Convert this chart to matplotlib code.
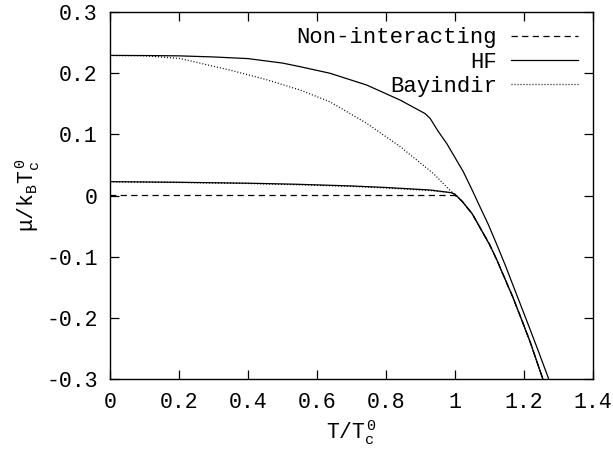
import matplotlib
matplotlib.use("Agg")
import matplotlib.pyplot as plt

# ---- data ----
# common branch above T_c (non-interacting, lower HF and Bayindir merge)
T_above = [1.0, 1.02, 1.05, 1.072, 1.1, 1.121, 1.169, 1.217, 1.254, 1.27]
mu_above = [0.0, -0.009, -0.030, -0.052, -0.080, -0.105, -0.168, -0.238, -0.299, -0.33]

# non-interacting below T_c
T_nonint_below = [0.0, 0.2, 0.4, 0.6, 0.8, 1.0]
mu_nonint_below = [0.0, 0.0, 0.0, 0.0, 0.0, 0.0]

# HF upper branch
T_hf_up = [0.0, 0.1, 0.2, 0.3, 0.4, 0.5, 0.551, 0.638, 0.744, 0.841, 0.913,
           0.928, 0.95, 0.976, 1.0, 1.024, 1.048, 1.072, 1.097, 1.121, 1.145,
           1.169, 1.193, 1.217, 1.244, 1.271, 1.29]
mu_hf_up = [0.229, 0.2288, 0.2283, 0.2265, 0.2238, 0.2165, 0.2106, 0.1998, 0.1806,
            0.156, 0.134, 0.126, 0.106, 0.085, 0.062, 0.039, 0.011, -0.018, -0.048,
            -0.080, -0.113, -0.148, -0.183, -0.218, -0.258, -0.299, -0.33]

# HF lower branch (below T_c)
T_hf_low = [0.0, 0.2, 0.4, 0.54, 0.7, 0.8, 0.928, 0.99, 1.0]
mu_hf_low = [0.0226, 0.0216, 0.0201, 0.0184, 0.0156, 0.0131, 0.0090, 0.0046, 0.002]

# Bayindir upper branch (below T_c)
T_bay_up = [0.0, 0.1, 0.203, 0.348, 0.45, 0.551, 0.638, 0.744, 0.841, 0.937, 0.99, 1.0]
mu_bay_up = [0.229, 0.2285, 0.224, 0.205, 0.190, 0.1725, 0.153, 0.118, 0.080, 0.036,
             0.006, 0.001]

# Bayindir lower branch (below T_c)
T_bay_low = [0.0, 0.2, 0.4, 0.54, 0.7, 0.8, 0.928, 0.99, 1.0]
mu_bay_low = [0.0226, 0.0213, 0.0196, 0.0177, 0.0149, 0.0123, 0.0081, 0.0043, 0.002]

x_ticks = [0, 0.2, 0.4, 0.6, 0.8, 1.0, 1.2, 1.4]
x_ticklabels = ["0", "0.2", "0.4", "0.6", "0.8", "1", "1.2", "1.4"]
y_ticks = [-0.3, -0.2, -0.1, 0, 0.1, 0.2, 0.3]
y_ticklabels = ["-0.3", "-0.2", "-0.1", "0", "0.1", "0.2", "0.3"]

# ---- style ----
plt.rcParams['font.family'] = ['Liberation Mono', 'DejaVu Sans']
plt.rcParams['mathtext.fontset'] = 'custom'
plt.rcParams['mathtext.rm'] = 'Liberation Mono'
plt.rcParams['mathtext.it'] = 'Liberation Mono'
plt.rcParams['mathtext.default'] = 'rm'
FS = 15.5

fig = plt.figure(figsize=(6.13, 4.53), dpi=100)
ax = fig.add_axes([110/613, 1 - 379/453, (593-110)/613, (379-12)/453])

lw = 0.9
ax.plot(T_nonint_below + T_above[1:], mu_nonint_below + mu_above[1:],
        color='black', lw=lw, linestyle=(0, (5, 3.5)), label='Non-interacting')
ax.plot(T_hf_up, mu_hf_up, color='black', lw=lw, label='HF')
ax.plot(T_hf_low + T_above[1:], mu_hf_low + mu_above[1:], color='black', lw=lw)
ax.plot(T_bay_up + T_above[1:], mu_bay_up + mu_above[1:], color='black', lw=lw,
        linestyle=(0, (0.8, 1.6)), label='Bayindir')
ax.plot(T_bay_low + T_above[1:], mu_bay_low + mu_above[1:], color='black', lw=lw,
        linestyle=(0, (0.8, 1.6)))

ax.set_xlim(0, 1.4)
ax.set_ylim(-0.3, 0.3)
ax.set_xticks(x_ticks)
ax.set_xticklabels(x_ticklabels)
ax.set_yticks(y_ticks)
ax.set_yticklabels(y_ticklabels)
ax.tick_params(direction='in', length=6.5, width=0.9, top=True, right=True,
               labelsize=FS)
ax.tick_params(axis='x', pad=9)
ax.tick_params(axis='y', pad=9)
for s in ax.spines.values():
    s.set_linewidth(1.0)

ax.set_xlabel(r'$T/T_c^{\,0}$', fontsize=FS, labelpad=4)
ax.set_ylabel(r'$\mu/k_BT_c^{\,0}$', fontsize=FS, labelpad=3)

ax.legend(loc='upper right', bbox_to_anchor=(0.969, 0.958), frameon=False,
          markerfirst=False, fontsize=16, handlelength=3.0, handletextpad=0.65,
          labelspacing=0.15, borderaxespad=0.0, borderpad=0.0)

fig.savefig('out.png', dpi=100)
